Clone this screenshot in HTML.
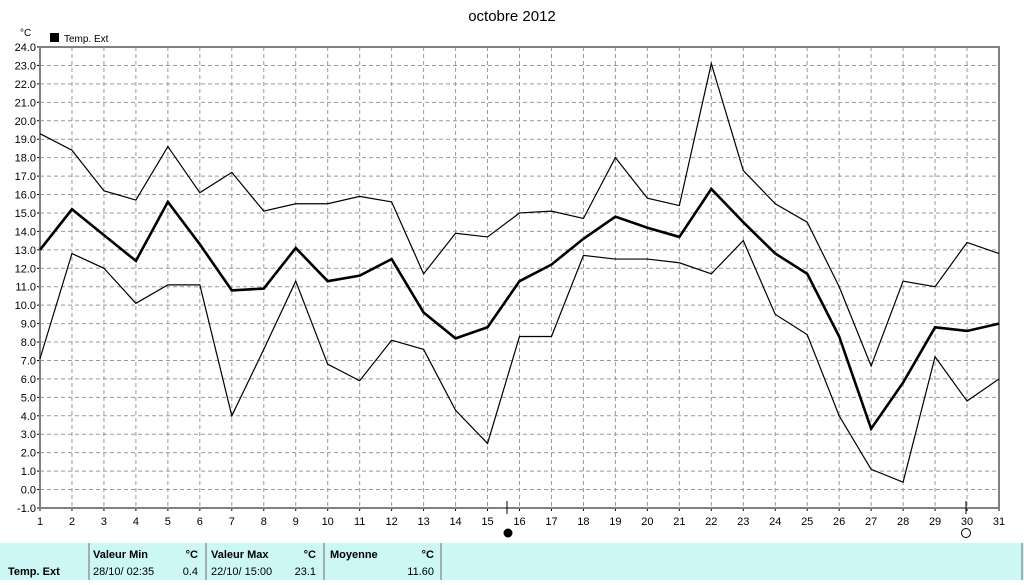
<!DOCTYPE html>
<html><head><meta charset="utf-8"><style>
body{margin:0;width:1024px;height:580px;background:#fff;overflow:hidden;font-family:"Liberation Sans",sans-serif}
svg text{font-family:"Liberation Sans",sans-serif}
</style></head><body>
<svg id="s" width="1024" height="580" xmlns="http://www.w3.org/2000/svg"></svg>
<script>
const mx=[19.3,18.4,16.2,15.7,18.6,16.1,17.2,15.1,15.5,15.5,15.9,15.6,11.7,13.9,13.7,15.0,15.1,14.7,18.0,15.8,15.4,23.1,17.3,15.5,14.5,11.0,6.7,11.3,11.0,13.4,12.8];
const av=[13.0,15.2,13.8,12.4,15.6,13.3,10.8,10.9,13.1,11.3,11.6,12.5,9.6,8.2,8.8,11.3,12.2,13.6,14.8,14.2,13.7,16.3,14.5,12.8,11.7,8.3,3.3,5.8,8.8,8.6,9.0];
const mn=[7.1,12.8,12.0,10.1,11.1,11.1,4.0,7.6,11.3,6.8,5.9,8.1,7.6,4.3,2.5,8.3,8.3,12.7,12.5,12.5,12.3,11.7,13.5,9.5,8.4,4.0,1.1,0.4,7.2,4.8,6.0];
const X0=40,X1=999,Y0=47,Y1=508;
const X=d=>X0+(d-1)*(X1-X0)/30, Y=v=>Y1-(v+1)*(Y1-Y0)/25;
let h='';
h+='<text x="512" y="21" font-size="15" text-anchor="middle">octobre 2012</text>';
h+='<text x="20" y="36" font-size="10">°C</text>';
h+='<rect x="50" y="33" width="9" height="9" fill="#000"/><text x="64" y="42" font-size="10">Temp. Ext</text>';
for(let i=0;i<=24;i++){const y=Y(i);h+=`<line x1="${X0}" x2="${X1}" y1="${y}" y2="${y}" stroke="#999" stroke-dasharray="4,3"/>`;}
for(let d=2;d<=30;d++){const x=X(d);h+=`<line x1="${x}" x2="${x}" y1="${Y0}" y2="${Y1}" stroke="#999" stroke-dasharray="4,3"/>`;}
for(let i=-1;i<=24;i++){const y=Y(i);h+=`<line x1="${X0-3}" x2="${X0}" y1="${y}" y2="${y}" stroke="#000"/><text x="${X0-4}" y="${y+4}" font-size="11" text-anchor="end">${i.toFixed(1)}</text>`;}
for(let d=1;d<=31;d++){const x=X(d);h+=`<line x1="${x}" x2="${x}" y1="${Y1}" y2="${Y1+3}" stroke="#000"/><text x="${x}" y="${Y1+17}" font-size="11" text-anchor="middle">${d}</text>`;}
h+=`<rect x="${X0}" y="${Y0}" width="${X1-X0}" height="${Y1-Y0}" fill="none" stroke="#808080" stroke-width="2"/>`;
const pl=(a,w)=>`<polyline fill="none" stroke="#000" stroke-width="${w}" points="${a.map((v,i)=>X(i+1)+','+Y(v)).join(' ')}"/>`;
h+=pl(mx,1.2)+pl(mn,1.2)+pl(av,2.6);
h+=`<line x1="507" x2="507" y1="501" y2="514" stroke="#000"/><line x1="966" x2="966" y1="501" y2="514" stroke="#000"/>`;
h+=`<circle cx="508" cy="533" r="4.5" fill="#000"/><circle cx="966" cy="533" r="4.5" fill="#fff" stroke="#000"/>`;
h+=`<rect x="0" y="543" width="1024" height="37" fill="#ccf7f5"/>`;
[88,205,323,440].forEach(x=>h+=`<rect x="${x}" y="543" width="2" height="37" fill="#a0b0b0"/>`);
h+=`<rect x="1021" y="543" width="2" height="37" fill="#a0b0b0"/>`;
const t=(x,y,s,b,a)=>h+=`<text x="${x}" y="${y}" font-size="11" ${b?'font-weight="bold"':''} ${a?'text-anchor="end"':''}>${s}</text>`;
t(93,558,'Valeur Min',1);t(198,558,'°C',1,1);t(211,558,'Valeur Max',1);t(316,558,'°C',1,1);t(330,558,'Moyenne',1);t(434,558,'°C',1,1);
t(8,575,'Temp. Ext',1);t(93,575,'28/10/  02:35');t(198,575,'0.4',0,1);t(211,575,'22/10/  15:00');t(316,575,'23.1',0,1);t(434,575,'11.60',0,1);
document.getElementById('s').innerHTML=h;
</script>
</body></html>
